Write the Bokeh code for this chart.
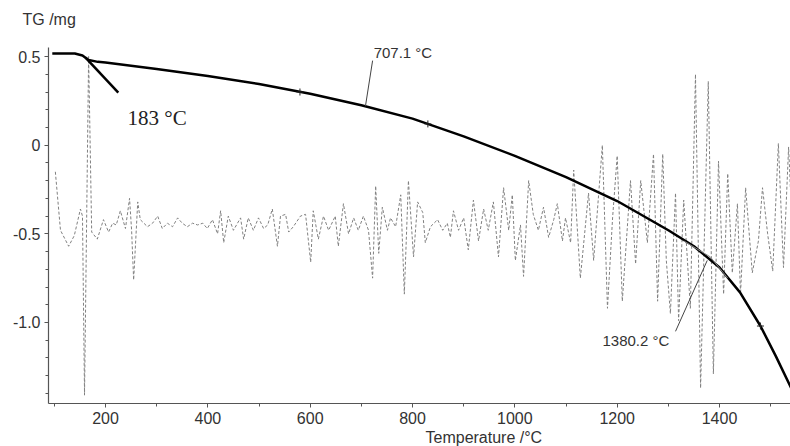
from bokeh.plotting import figure
from bokeh.models import Range1d, FixedTicker, Label, Title
from bokeh.embed import file_html
from bokeh.resources import INLINE

# TG curve (mass, mg) vs temperature
tg_temp = [96, 140, 155, 167, 185, 200, 300, 400, 500, 600, 700, 800, 900, 1000, 1100,
           1200, 1300, 1350, 1400, 1440, 1480, 1510, 1540]
tg_mass = [0.517, 0.517, 0.506, 0.48, 0.47, 0.466, 0.43, 0.39, 0.345, 0.29, 0.225, 0.15,
           0.05, -0.06, -0.18, -0.315, -0.48, -0.57, -0.69, -0.83, -1.02, -1.19, -1.37]

# DTA-like dashed signal (same axis scale)
dta_temp = [102, 112, 128, 139, 151, 155, 159, 167, 173, 184, 196, 206, 214, 221, 229, 239,
            247, 251, 255, 263, 268, 282, 292, 302, 311, 321, 331, 341, 350, 360, 370, 380,
            390, 399, 409, 419, 425, 431, 440, 450, 464, 470, 479, 489, 499, 509, 517, 526,
            536, 542, 552, 558, 567, 581, 591, 601, 606, 616, 626, 636, 649, 655, 665, 675,
            685, 694, 704, 714, 722, 728, 734, 741, 751, 757, 767, 777, 784, 792, 802, 810,
            820, 825, 835, 849, 859, 868, 874, 880, 890, 900, 909, 919, 929, 939, 948, 958,
            968, 978, 988, 995, 1001, 1011, 1017, 1027, 1036, 1046, 1056, 1066, 1076, 1083,
            1093, 1099, 1109, 1115, 1128, 1144, 1154, 1171, 1181, 1191, 1200, 1210, 1226,
            1236, 1246, 1259, 1271, 1279, 1289, 1296, 1304, 1314, 1320, 1330, 1343, 1353,
            1363, 1378, 1388, 1398, 1408, 1416, 1425, 1435, 1441, 1451, 1464, 1476, 1484,
            1494, 1504, 1515, 1525, 1535, 1543]
dta_val = [-0.15, -0.48, -0.57, -0.51, -0.36, -0.40, -1.41, 0.50, -0.49, -0.53, -0.42, -0.49,
           -0.44, -0.45, -0.37, -0.47, -0.30, -0.48, -0.76, -0.32, -0.42, -0.46, -0.44, -0.40,
           -0.47, -0.44, -0.46, -0.41, -0.44, -0.46, -0.44, -0.45, -0.44, -0.47, -0.42, -0.50,
           -0.37, -0.55, -0.40, -0.48, -0.41, -0.53, -0.41, -0.48, -0.41, -0.47, -0.45, -0.36,
           -0.57, -0.40, -0.39, -0.49, -0.46, -0.40, -0.39, -0.66, -0.37, -0.53, -0.40, -0.48,
           -0.40, -0.57, -0.33, -0.50, -0.41, -0.48, -0.40, -0.48, -0.75, -0.23, -0.61, -0.35,
           -0.48, -0.41, -0.46, -0.28, -0.84, -0.20, -0.63, -0.32, -0.38, -0.55, -0.46, -0.42,
           -0.48, -0.44, -0.52, -0.37, -0.48, -0.41, -0.59, -0.31, -0.54, -0.36, -0.48, -0.32,
           -0.63, -0.24, -0.48, -0.28, -0.65, -0.45, -0.74, -0.20, -0.39, -0.48, -0.35, -0.52,
           -0.42, -0.33, -0.54, -0.41, -0.55, -0.14, -0.75, -0.27, -0.65, 0.0, -0.92, -0.41,
           -0.06, -0.88, -0.20, -0.67, -0.20, -0.55, -0.05, -0.88, -0.05, -0.65, -0.95, -0.27,
           -0.99, -0.31, -0.92, 0.40, -1.37, 0.36, -1.29, -0.09, -0.84, -0.16, -0.72, -0.33,
           -0.84, -0.24, -0.72, -0.54, -0.24, -0.50, -0.71, 0.01, -0.69, -0.01, -0.54]

# Onset tangent (183 °C) and tangents near 1380.2 °C
onset_temp = [161, 225]
onset_mass = [0.494, 0.297]
tan2_temp = [1330, 1382, 1416]
tan2_mass = [-0.54, -0.63, -0.75]
lead1_temp = [708, 722]
lead1_mass = [0.22, 0.477]
lead2_temp = [1314, 1376]
lead2_mass = [-1.05, -0.65]
cross_temp = [580, 830, 1480]
cross_mass = [0.30, 0.12, -1.02]

x_major = [200, 400, 600, 800, 1000, 1200, 1400]
x_minor = [100, 300, 500, 700, 900, 1100, 1300, 1500]
y_major = [-1.0, -0.5, 0.0, 0.5]
y_labels = {-1.0: "-1.0", -0.5: "-0.5", 0.0: "0", 0.5: "0.5"}
y_minor = [-1.4, -1.3, -1.2, -1.1, -0.9, -0.8, -0.7, -0.6, -0.4, -0.3, -0.2, -0.1,
           0.1, 0.2, 0.3, 0.4]

FONT = "Liberation Sans"
AX = "#555555"
TXT = "#333333"

p = figure(width=790, height=446, x_range=Range1d(88.6, 1538.7), y_range=Range1d(-1.457, 0.551),
           output_backend="svg", toolbar_location=None,
           min_border_left=48, min_border_right=0, min_border_top=47, min_border_bottom=43)
p.outline_line_color = None
p.xgrid.visible = False
p.ygrid.visible = False
p.background_fill_color = "white"

# y-axis caption as the (left-aligned) title; the trailing empty line lifts it
p.title.text = "TG /mg\n"
p.title.align = "left"
p.title.offset = -26
p.title.standoff = 10
p.title.vertical_align = "top"
p.title.text_line_height = 0.75
p.title.text_font = FONT
p.title.text_font_size = "16px"
p.title.text_font_style = "normal"
p.title.text_color = TXT

# x-axis caption, placed like the reference (right of centre)
p.add_layout(Title(text="Temperature /°C", align="left", offset=377, standoff=0,
                   text_font=FONT, text_font_size="16px", text_font_style="normal",
                   text_color=TXT), "below")

p.xaxis.ticker = FixedTicker(ticks=x_major, minor_ticks=x_minor)
p.yaxis.ticker = FixedTicker(ticks=y_major, minor_ticks=y_minor)
p.yaxis.major_label_overrides = y_labels
for ax in (p.xaxis[0], p.yaxis[0]):
    ax.axis_line_color = AX
    ax.axis_line_width = 1.2
    ax.major_tick_line_color = AX
    ax.minor_tick_line_color = AX
    ax.major_tick_in = 0
    ax.minor_tick_in = 0
    ax.major_tick_out = 4
    ax.minor_tick_out = 3
    ax.major_label_text_font = FONT
    ax.major_label_text_font_size = "16px"
    ax.major_label_text_color = TXT
p.xaxis.major_label_standoff = 4
p.yaxis.major_label_standoff = 4

p.line(dta_temp, dta_val, line_color="#808080", line_width=1, line_dash="3 2")
p.line(tg_temp, tg_mass, line_color="black", line_width=2.5)
p.line(onset_temp, onset_mass, line_color="black", line_width=2.5)
p.line(tan2_temp, tan2_mass, line_color="#888888", line_width=1)
p.line(lead1_temp, lead1_mass, line_color="#444444", line_width=1)
p.line(lead2_temp, lead2_mass, line_color="#444444", line_width=1)
p.scatter(cross_temp, cross_mass, marker="cross", size=7, line_color="#222222", line_width=1)

p.add_layout(Label(x=724, y=0.52, text="707.1 °C", text_font=FONT, text_font_size="15px",
                   text_color=TXT, text_baseline="middle", text_align="left"))
p.add_layout(Label(x=1302, y=-1.10, text="1380.2 °C", text_font=FONT, text_font_size="15px",
                   text_color=TXT, text_baseline="middle", text_align="right"))
p.add_layout(Label(x=243, y=0.156, text="183 °C", text_font="Liberation Serif",
                   text_font_size="21px", text_color="#222222", text_baseline="middle",
                   text_align="left"))

open("out.html", "w").write(file_html(p, INLINE))
